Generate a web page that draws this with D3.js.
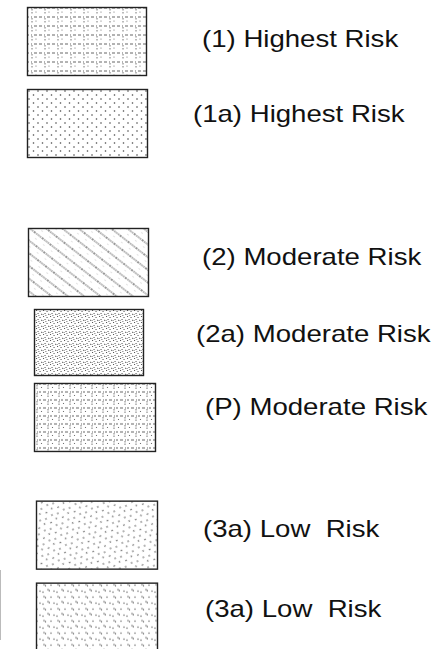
<!DOCTYPE html>
<html>
<head>
  <meta charset="UTF-8">
  <script src="https://d3js.org/d3.v7.min.js"></script>
  <style>
    body { margin: 0; background: #fff; }
    text { font-family: "Liberation Sans", Arial, Helvetica, sans-serif; white-space: pre; }
  </style>
</head>
<body>
<svg></svg>
<script>

// legend entries
var codes = ["(1)", "(1a)", "(2)", "(2a)", "(P)", "(3a)", "(3a)"]
var riskLevels = ["Highest Risk", "Highest Risk", "Moderate Risk", "Moderate Risk", "Moderate Risk", "Low  Risk", "Low  Risk"]
var fills = ["grid", "dots", "diag", "dense", "grid2", "sparse", "speck"]

// vertical slot of each row (groups separated by gaps)
var slots = [0, 1, 2.695, 3.683, 4.585, 6.02, 7.02]
// small offsets of the scanned boxes / labels
var boxShift = [0, 0, 1, 7, 7, 9, 9]
var boxWidth = [119, 120, 120, 109, 121, 121, 121]
var labelShift = [9, 0, 9, 3, 12, 10, 12]
var labelDy = [40, 33, 37, 33, 32, 36, 34]

var width = 435, height = 649

var svg = d3.select("svg")
    .attr("width", width)
    .attr("height", height)

var y = d3.scaleLinear().domain([0, 1]).range([7, 89])

var defs = svg.append("defs")

function pat(id, w, h, tr) {
  var p = defs.append("pattern")
    .attr("id", id)
    .attr("patternUnits", "userSpaceOnUse")
    .attr("width", w)
    .attr("height", h)
  if (tr) p.attr("patternTransform", tr)
  return p
}

// (1) grid of broken lines
var g1 = pat("grid", 13, 9)
g1.append("path").attr("d", "M0,1 H13").attr("stroke", "#555").attr("stroke-width", 0.9).attr("stroke-dasharray", "3,2,1,2")
g1.append("path").attr("d", "M6,2 V7").attr("stroke", "#666").attr("stroke-width", 0.9).attr("stroke-dasharray", "1.5,1.5")
g1.append("circle").attr("cx", 10).attr("cy", 5).attr("r", 0.6).attr("fill", "#666")

// (P) similar grid, a bit denser
var g2 = pat("grid2", 11, 8)
g2.append("path").attr("d", "M0,1 H11").attr("stroke", "#555").attr("stroke-width", 0.9).attr("stroke-dasharray", "2,2,1,1")
g2.append("path").attr("d", "M4,2 V6").attr("stroke", "#666").attr("stroke-width", 0.9).attr("stroke-dasharray", "1.5,1")
g2.append("circle").attr("cx", 8.5).attr("cy", 4.5).attr("r", 0.6).attr("fill", "#555")

// (1a) staggered dots
var d1 = pat("dots", 9, 8)
d1.append("circle").attr("cx", 2).attr("cy", 2).attr("r", 0.8).attr("fill", "#444")
d1.append("circle").attr("cx", 6.5).attr("cy", 6).attr("r", 0.8).attr("fill", "#444")

// (2) dotted diagonal lines
var dg = pat("diag", 10, 10, "rotate(38)")
dg.append("path").attr("d", "M0,2 H10").attr("stroke", "#333").attr("stroke-width", 1.2).attr("stroke-dasharray", "1.2,1")
dg.append("circle").attr("cx", 5).attr("cy", 6.5).attr("r", 0.45).attr("fill", "#888")

// (2a) dense stipple
var ds = pat("dense", 7, 6)
;[[1, 1], [4.5, 2], [2.5, 4], [6, 4.8], [0.5, 5.3]].forEach(function(c) {
  ds.append("rect").attr("x", c[0]).attr("y", c[1]).attr("width", 1.1).attr("height", 0.9).attr("fill", "#444")
})
ds.append("path").attr("d", "M3,0.3 h1.6").attr("stroke", "#555").attr("stroke-width", 0.7)

// (3a) sparse dots on a slant
var sp = pat("sparse", 13, 11, "rotate(-25)")
;[[2, 2], [8, 3], [4.5, 7], [11, 8.5]].forEach(function(c) {
  sp.append("circle").attr("cx", c[0]).attr("cy", c[1]).attr("r", 0.8).attr("fill", "#555")
})

// (3a) small specks in clusters
var sk = pat("speck", 14, 12)
;[[2, 2], [3.5, 3], [9, 2.5], [6, 7], [7.3, 8], [12, 8.5], [1, 9.5]].forEach(function(c) {
  sk.append("circle").attr("cx", c[0]).attr("cy", c[1]).attr("r", 0.7).attr("fill", "#555")
})

var rows = svg.selectAll("g.row")
  .data(codes)
  .enter().append("g")
  .attr("class", "row")
  .attr("transform", function(d, i) { return "translate(0," + y(slots[i]) + ")" })

rows.append("rect")
  .attr("x", function(d, i) { return 27.5 + boxShift[i] })
  .attr("y", 0.5)
  .attr("width", function(d, i) { return boxWidth[i] })
  .attr("height", function(d, i) { return i == 3 ? 66 : 68 })
  .attr("fill", function(d, i) { return "url(#" + fills[i] + ")" })
  .attr("stroke", "#222")
  .attr("stroke-width", 1.4)

rows.append("text")
  .attr("transform", function(d, i) { return "translate(" + (193 + labelShift[i]) + "," + labelDy[i] + ") scale(1.2,1)" })
  .attr("font-size", 23)
  .attr("fill", "#111")
  .text(function(d, i) { return d + " " + riskLevels[i] })

// faint scan edge on the left
svg.append("line")
  .attr("x1", 0.5).attr("x2", 0.5)
  .attr("y1", 570).attr("y2", 640)
  .attr("stroke", "#bbb")
  .attr("stroke-width", 1)

</script>
</body>
</html>
